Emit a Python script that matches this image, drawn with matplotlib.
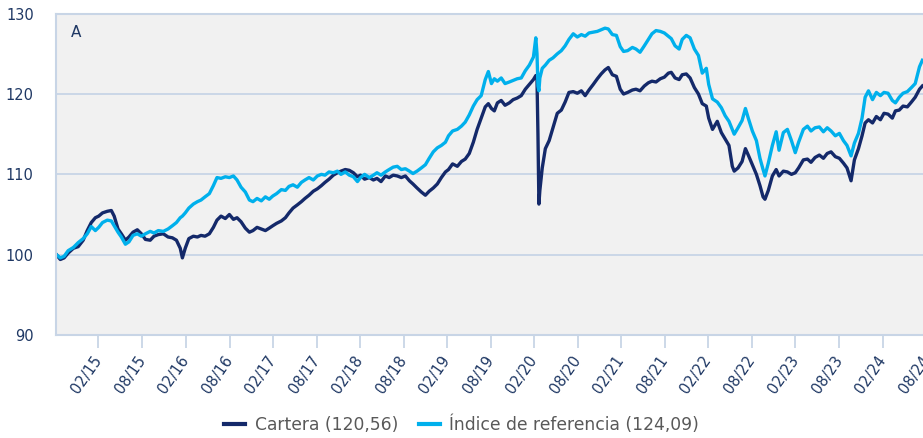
import matplotlib
matplotlib.use('Agg')
import matplotlib.pyplot as plt
import matplotlib.dates as mdates
import pandas as pd

# values (base 100)
dates = [
    "2014-09-05", "2014-09-21", "2014-10-07", "2014-10-24", "2014-11-15", "2014-12-05", "2014-12-26",
    "2015-01-12", "2015-01-29", "2015-02-15", "2015-03-01", "2015-03-17", "2015-04-06", "2015-04-23",
    "2015-05-05", "2015-05-21", "2015-06-04", "2015-06-21", "2015-07-06", "2015-07-23", "2015-08-10",
    "2015-08-27", "2015-09-13", "2015-10-03", "2015-10-19", "2015-11-06", "2015-11-27", "2015-12-17",
    "2016-01-04", "2016-01-21", "2016-02-06", "2016-02-15", "2016-02-27", "2016-03-13", "2016-04-01",
    "2016-04-18", "2016-05-03", "2016-05-20", "2016-06-07", "2016-06-24", "2016-07-09", "2016-07-26",
    "2016-08-13", "2016-08-30", "2016-09-16", "2016-10-01", "2016-10-18", "2016-11-05", "2016-11-22",
    "2016-12-07", "2016-12-24", "2017-01-11", "2017-01-28", "2017-02-13", "2017-02-28", "2017-03-16",
    "2017-04-05", "2017-04-22", "2017-05-07", "2017-05-24", "2017-06-11", "2017-06-28", "2017-07-13",
    "2017-07-30", "2017-08-17", "2017-09-03", "2017-09-20", "2017-10-05", "2017-10-22", "2017-11-09",
    "2017-11-26", "2017-12-11", "2017-12-29", "2018-01-15", "2018-02-01", "2018-02-18", "2018-03-03",
    "2018-03-20", "2018-04-09", "2018-04-26", "2018-05-11", "2018-05-28", "2018-06-15", "2018-07-01",
    "2018-07-18", "2018-08-04", "2018-08-21", "2018-09-07", "2018-09-24", "2018-10-09", "2018-10-26",
    "2018-11-13", "2018-11-30", "2018-12-16", "2019-01-02", "2019-01-19", "2019-02-05", "2019-02-22",
    "2019-03-07", "2019-03-24", "2019-04-13", "2019-04-30", "2019-05-16", "2019-06-02", "2019-06-19",
    "2019-07-05", "2019-07-22", "2019-08-08", "2019-08-21", "2019-09-03", "2019-09-15", "2019-09-28",
    "2019-10-14", "2019-10-30", "2019-11-17", "2019-12-03", "2019-12-20", "2020-01-06", "2020-01-23",
    "2020-02-09", "2020-02-26", "2020-03-07", "2020-03-12", "2020-03-16", "2020-03-20", "2020-03-24",
    "2020-04-03", "2020-04-16", "2020-05-02", "2020-05-18", "2020-06-05", "2020-06-22", "2020-07-08",
    "2020-07-24", "2020-08-11", "2020-08-28", "2020-09-14", "2020-09-30", "2020-10-16", "2020-11-03",
    "2020-11-20", "2020-12-06", "2020-12-22", "2021-01-05", "2021-01-22", "2021-02-08", "2021-02-24",
    "2021-03-10", "2021-03-27", "2021-04-16", "2021-05-01", "2021-05-18", "2021-06-05", "2021-06-22",
    "2021-07-07", "2021-07-24", "2021-08-11", "2021-08-28", "2021-09-14", "2021-09-26", "2021-10-12",
    "2021-10-29", "2021-11-11", "2021-11-28", "2021-12-14", "2022-01-01", "2022-01-18", "2022-02-03",
    "2022-02-20", "2022-03-02", "2022-03-18", "2022-04-07", "2022-04-24", "2022-05-10", "2022-05-26",
    "2022-06-09", "2022-06-17", "2022-07-03", "2022-07-20", "2022-08-03", "2022-08-15", "2022-09-01",
    "2022-09-18", "2022-10-03", "2022-10-16", "2022-10-24", "2022-11-07", "2022-11-24", "2022-12-10",
    "2022-12-22", "2023-01-09", "2023-01-26", "2023-02-12", "2023-02-28", "2023-03-14", "2023-04-03",
    "2023-04-20", "2023-05-05", "2023-05-22", "2023-06-09", "2023-06-26", "2023-07-12", "2023-07-28",
    "2023-08-15", "2023-09-01", "2023-09-18", "2023-10-03", "2023-10-20", "2023-11-03", "2023-11-20",
    "2023-12-05", "2023-12-18", "2024-01-01", "2024-01-18", "2024-02-03", "2024-02-20", "2024-03-06",
    "2024-03-23", "2024-04-10", "2024-04-23", "2024-05-09", "2024-05-25", "2024-06-12", "2024-06-29",
    "2024-07-15", "2024-08-02", "2024-08-14",
]

cartera = [
    100.0, 99.4, 99.6, 100.2, 100.8, 101.0, 101.8,
    103.0, 104.0, 104.6, 104.8, 105.2, 105.4, 105.5,
    104.8, 103.2, 102.6, 101.8, 102.2, 102.8, 103.1,
    102.6, 101.9, 101.8, 102.3, 102.5, 102.6, 102.2,
    102.1, 101.8, 100.8, 99.6, 100.8, 102.0, 102.3,
    102.2, 102.4, 102.3, 102.6, 103.4, 104.3, 104.8,
    104.5, 105.0, 104.4, 104.6, 104.1, 103.3, 102.8,
    103.0, 103.4, 103.2, 103.0, 103.3, 103.6, 103.9,
    104.2, 104.6, 105.2, 105.8, 106.2, 106.6, 107.0,
    107.4, 107.9, 108.2, 108.6, 109.0, 109.4, 109.9,
    110.2, 110.4, 110.6, 110.5, 110.2, 109.7, 109.9,
    109.4, 109.6, 109.3, 109.5, 109.1, 109.8, 109.6,
    109.9, 109.8, 109.6, 109.8, 109.2, 108.8, 108.3,
    107.8, 107.4, 107.9, 108.3, 108.8, 109.6, 110.3,
    110.6, 111.3, 111.0, 111.6, 111.9, 112.6, 114.0,
    115.6, 117.0, 118.4, 118.8, 118.2, 117.9, 118.9,
    119.2, 118.6, 118.9, 119.3, 119.5, 119.8, 120.6,
    121.2, 121.8, 122.3, 121.8, 115.0, 106.3, 108.0,
    110.8, 113.2, 114.2, 115.8, 117.6, 118.0, 119.0,
    120.2, 120.3, 120.1, 120.4, 119.8, 120.5, 121.2,
    121.9, 122.5, 123.0, 123.3, 122.4, 122.2, 120.6,
    120.0, 120.2, 120.5, 120.6, 120.4, 121.0, 121.4,
    121.6, 121.5, 121.9, 122.1, 122.6, 122.7, 122.0,
    121.8, 122.4, 122.5, 122.0, 120.8, 120.0, 118.8,
    118.5, 117.0, 115.6, 116.6, 115.2, 114.4, 113.6,
    111.0, 110.4, 110.8, 111.6, 113.2, 112.4, 111.2,
    110.0, 108.6, 107.2, 106.9, 108.0, 109.8, 110.6,
    109.8, 110.4, 110.3, 110.0, 110.2, 110.8, 111.8,
    111.9, 111.5, 112.1, 112.4, 112.0, 112.6, 112.8,
    112.2, 112.0, 111.4, 110.8, 109.2, 111.8, 113.2,
    114.8, 116.4, 116.8, 116.4, 117.2, 116.8, 117.6,
    117.5, 117.0, 117.9, 118.0, 118.5, 118.4, 119.0,
    119.6, 120.6, 121.0,
]

indice = [
    100.0, 99.6, 99.8, 100.5, 100.9, 101.5, 102.0,
    102.6, 103.5, 103.0, 103.4, 104.0, 104.3, 104.2,
    103.6, 102.8, 102.2, 101.3, 101.6, 102.4, 102.6,
    102.3, 102.6, 102.9, 102.7, 103.0, 102.9, 103.2,
    103.6, 104.0, 104.6, 104.8, 105.2, 105.8, 106.3,
    106.6, 106.8, 107.2, 107.6, 108.6, 109.6, 109.5,
    109.7, 109.6, 109.8, 109.3, 108.4, 107.8, 106.8,
    106.6, 107.0, 106.7, 107.2, 106.9, 107.3, 107.6,
    108.1, 108.0, 108.5, 108.7, 108.4, 109.0, 109.3,
    109.6, 109.3, 109.8, 110.0, 109.9, 110.3, 110.2,
    110.4, 110.0, 110.3, 109.9, 109.7, 109.1, 109.6,
    110.0, 109.6, 109.9, 110.2, 109.9, 110.3, 110.6,
    110.9, 111.0, 110.6, 110.7, 110.4, 110.1, 110.4,
    110.8, 111.2, 112.0, 112.8, 113.3, 113.6, 114.0,
    114.8, 115.4, 115.6, 116.0, 116.5, 117.4, 118.5,
    119.3, 119.8, 121.8, 122.8, 121.3, 121.9, 121.6,
    122.0, 121.3, 121.5, 121.7, 121.9, 122.0, 122.9,
    123.6, 124.6, 127.0, 125.0, 121.0, 120.4, 122.0,
    123.2, 123.6, 124.2, 124.5, 125.0, 125.4, 126.0,
    126.8, 127.5, 127.1, 127.4, 127.2, 127.6, 127.7,
    127.8, 128.0, 128.2, 128.1, 127.4, 127.3, 125.9,
    125.3, 125.4, 125.8, 125.6, 125.2, 126.0, 126.8,
    127.5, 127.9, 127.8, 127.6, 127.2, 126.9, 126.0,
    125.6, 126.8, 127.3, 127.0, 125.6, 124.8, 122.6,
    123.2, 121.2, 119.4, 119.0, 118.3, 117.3, 116.6,
    115.6, 115.0, 115.8, 116.7, 118.2, 117.0, 115.4,
    114.2, 112.0, 110.6, 109.8, 111.4, 113.6, 115.3,
    113.0, 115.2, 115.6, 114.2, 112.7, 114.0, 115.6,
    116.0, 115.4, 115.8, 115.9, 115.3, 115.8, 115.4,
    114.8, 115.1, 114.2, 113.6, 112.3, 113.9, 115.1,
    117.0, 119.6, 120.4, 119.3, 120.2, 119.8, 120.2,
    120.1, 119.2, 118.9, 119.6, 120.1, 120.3, 120.8,
    121.3, 123.4, 124.2,
]

labels = ["Cartera (120,56)", "Índice de referencia (124,09)"]
y_ticks = [90, 100, 110, 120, 130]

navy = "#14296a"
cyan = "#00b0ec"
grid_col = "#c8d5e6"
text_col = "#1f3864"

W, H = 923, 438
fig = plt.figure(figsize=(W / 100, H / 100), dpi=100)
# right edge deliberately past the figure so the last tick label is cut like the original
ax = fig.add_axes([56 / W, 1 - 335 / H, (930 - 56) / W, (335 - 13.7) / H])
ax.set_facecolor("#f1f1f1")

x = pd.to_datetime(dates)
ax.plot(x, cartera, color=navy, linewidth=2.4, label=labels[0])
ax.plot(x, indice, color=cyan, linewidth=2.4, label=labels[1])

ax.set_ylim(90, 130)
ax.set_yticks(y_ticks)
ax.set_xlim(pd.Timestamp("2014-09-03"), pd.Timestamp("2024-09-15"))

ticks = pd.date_range("2015-02-01", "2024-08-31", freq="6MS") + pd.offsets.MonthEnd(0)
ax.set_xticks(ticks)
ax.xaxis.set_major_formatter(mdates.DateFormatter("%m/%y"))

ax.grid(axis="y", color=grid_col, linewidth=1.3)
ax.set_axisbelow(True)
for side in ["left", "bottom", "top"]:
    ax.spines[side].set_color(grid_col)
    ax.spines[side].set_linewidth(1.5)
ax.spines["right"].set_visible(False)

ax.tick_params(axis="y", length=0, pad=16, labelsize=10.5, labelcolor=text_col)
ax.tick_params(axis="x", length=9, width=1.3, color=grid_col, pad=7,
               labelsize=10.5, labelcolor=text_col)
for lab in ax.get_xticklabels():
    lab.set_rotation(55)
    lab.set_ha("right")
    lab.set_va("center")
    lab.set_rotation_mode("anchor")

fig.text(71 / W, 1 - 32.5 / H, "A", fontsize=11, color=text_col, va="center", ha="left")

leg = fig.legend(loc="center", bbox_to_anchor=(0.5, 1 - 425 / H), ncol=2, frameon=False,
                 fontsize=12.3, handlelength=1.25, handletextpad=0.55, columnspacing=1.2)
for t in leg.get_texts():
    t.set_color("#595959")
for h in leg.get_lines():
    h.set_linewidth(3)

fig.savefig("out.png", dpi=100)
